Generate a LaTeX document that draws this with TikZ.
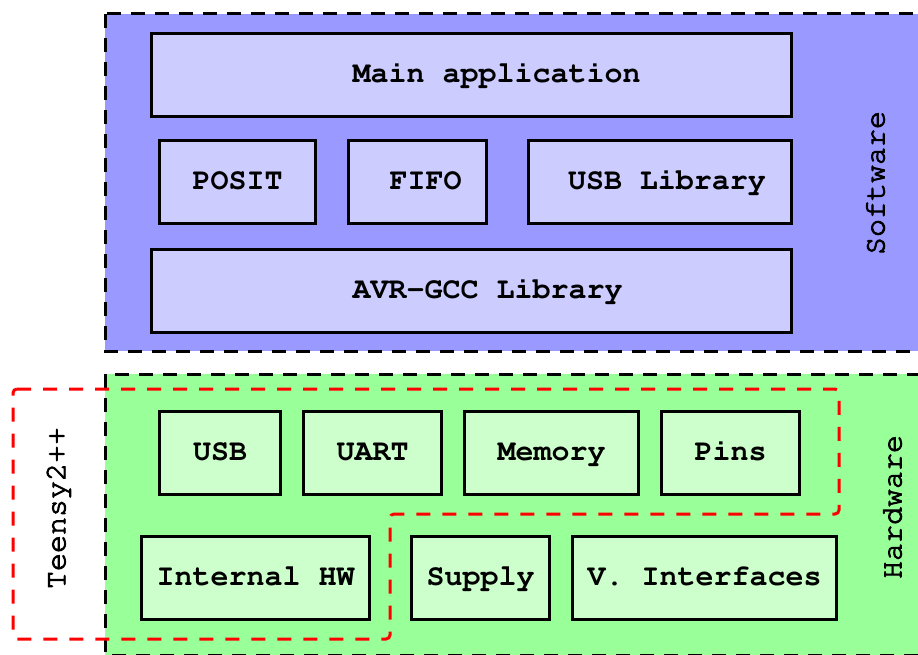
\documentclass[tikz,border=0pt]{standalone}
\usepackage[T1]{fontenc}
\renewcommand{\ttdefault}{pcr}
\usetikzlibrary{positioning}
\definecolor{swback}{HTML}{9999FF}
\definecolor{swbox}{HTML}{CCCCFF}
\definecolor{hwback}{HTML}{99FF99}
\definecolor{hwbox}{HTML}{CCFFCC}
% a slightly heavier Courier for the side labels
\newcommand{\heavytext}[1]{\special{pdf:literal direct 2 Tr 0.9 w}#1\special{pdf:literal direct 0 Tr}}

\begin{document}
\begin{tikzpicture}[x=1pt, y=-1pt,
    block/.style={draw, line width=3pt, minimum height=83pt, inner sep=0pt,
        text height=21pt, text depth=6pt,
        font=\ttfamily\bfseries\fontsize{30}{34}\selectfont},
    sw/.style={block, fill=swbox},
    hw/.style={block, fill=hwbox},
    region/.style={draw, line width=3pt, dash pattern=on 14pt off 10pt},
    tag/.style={rotate=90, font=\ttfamily\fontsize{30}{34}\selectfont}]
    \clip (0,0) rectangle (918,655);

    \path[region, fill=swback] (105,14) rectangle (940,351);
    \path[region, fill=hwback] (105,374) rectangle (940,655);
    \draw[red, line width=3pt, dash pattern=on 14pt off 12pt, rounded corners=4pt]
        (13,389) -- (839,389) -- (839,514) -- (390,514) -- (390,639) -- (13,639) -- cycle;

    \node[sw, minimum width=640pt] (main) at (471.5,75) {\hspace*{50pt}Main application};
    \node[sw, minimum width=156pt] (posit) at (237.5,182.5) {POSIT};
    \node[sw, minimum width=138pt, right=30pt of posit] (fifo) {\hspace*{16pt}FIFO};
    \node[sw, minimum width=263pt, right=39pt of fifo] (usblib) {\hspace*{14pt}USB Library};
    \node[sw, minimum width=640pt] (avr) at (471.5,290.5) {\hspace*{32pt}AVR-GCC Library};

    \node[hw, minimum width=121pt] (usb) at (220,452.5) {USB};
    \node[hw, minimum width=138pt, right=20pt of usb] (uart) {UART};
    \node[hw, minimum width=174pt, right=20pt of uart] (mem) {Memory};
    \node[hw, minimum width=138pt, right=20pt of mem] (pins) {Pins};
    \node[hw, minimum width=228pt] (int) at (255.5,578) {Internal HW};
    \node[hw, minimum width=138pt, right=39pt of int] (sup) {Supply};
    \node[hw, minimum width=264pt, right=20pt of sup] (vif) {V. Interfaces};

    \node[tag] (sw) at (875,183) {\heavytext{Software}};
    \node[tag] (hw) at (892,507) {\heavytext{Hardware}};
    \node[tag] (teensy) at (58,508) {\heavytext{Teensy2++}};
\end{tikzpicture}
\end{document}
